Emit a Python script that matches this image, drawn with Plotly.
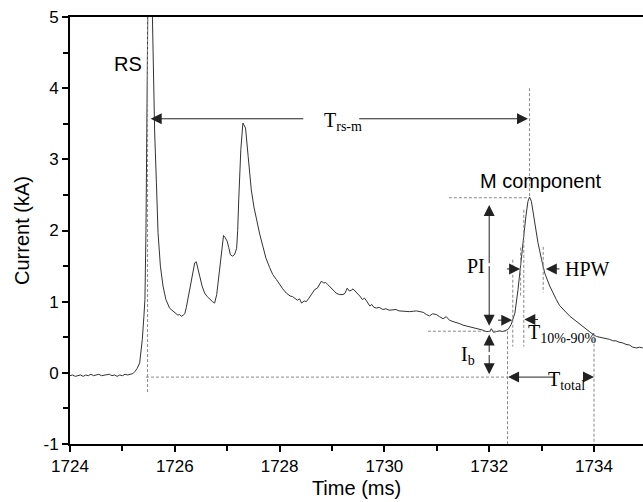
import plotly.graph_objects as go

# ---- data ----
time_ms = [
    1724.00, 1724.05, 1724.10, 1724.15, 1724.20, 1724.25, 1724.30, 1724.35, 1724.40, 1724.45,
    1724.50, 1724.55, 1724.60, 1724.65, 1724.70, 1724.75, 1724.80, 1724.85, 1724.90, 1724.95,
    1725.00, 1725.05, 1725.10, 1725.15, 1725.20, 1725.24, 1725.28, 1725.33, 1725.36, 1725.38,
    1725.41, 1725.43, 1725.45, 1725.47, 1725.49, 1725.52, 1725.55, 1725.572, 1725.603, 1725.616,
    1725.649, 1725.68, 1725.725, 1725.775, 1725.83, 1725.90, 1725.93, 1725.966, 1726.00, 1726.03,
    1726.06, 1726.09, 1726.126, 1726.16, 1726.19, 1726.22, 1726.25, 1726.317, 1726.38, 1726.41,
    1726.44, 1726.475, 1726.52, 1726.57, 1726.62, 1726.67, 1726.72, 1726.76, 1726.80, 1726.825,
    1726.86, 1726.89, 1726.93, 1726.96, 1727.00, 1727.03, 1727.06, 1727.10, 1727.14, 1727.18,
    1727.20, 1727.22, 1727.26, 1727.30, 1727.35, 1727.40, 1727.46, 1727.51, 1727.56, 1727.62,
    1727.68, 1727.74, 1727.81, 1727.87, 1727.94, 1728.00, 1728.06, 1728.13, 1728.20, 1728.25,
    1728.29, 1728.34, 1728.38, 1728.42, 1728.47, 1728.51, 1728.56, 1728.61, 1728.67, 1728.72,
    1728.76, 1728.80, 1728.84, 1728.88, 1728.92, 1728.97, 1729.02, 1729.08, 1729.14, 1729.21,
    1729.25, 1729.29, 1729.33, 1729.37, 1729.40, 1729.43, 1729.48, 1729.53, 1729.58, 1729.62,
    1729.66, 1729.72, 1729.76, 1729.80, 1729.85, 1729.90, 1729.97, 1730.03, 1730.09, 1730.16,
    1730.22, 1730.28, 1730.35, 1730.42, 1730.48, 1730.55, 1730.61, 1730.68, 1730.74, 1730.80,
    1730.86, 1730.92, 1730.99, 1731.05, 1731.12, 1731.18, 1731.24, 1731.31, 1731.37, 1731.44,
    1731.50, 1731.56, 1731.63, 1731.70, 1731.76, 1731.82, 1731.88, 1731.94, 1732.01, 1732.04,
    1732.08, 1732.14, 1732.20, 1732.26, 1732.31, 1732.36, 1732.42, 1732.49, 1732.55, 1732.60,
    1732.645, 1732.70, 1732.74, 1732.77, 1732.805, 1732.87, 1732.93, 1733.00, 1733.06, 1733.155,
    1733.22, 1733.28, 1733.34, 1733.41, 1733.48, 1733.54, 1733.60, 1733.66, 1733.73, 1733.80,
    1733.86, 1733.92, 1733.98, 1734.05, 1734.12, 1734.18, 1734.24, 1734.30, 1734.36, 1734.42,
    1734.48, 1734.55, 1734.61, 1734.68, 1734.74, 1734.81, 1734.87, 1734.93,
]
current_ka = [
    -0.04, -0.03, -0.05, -0.04, -0.03, -0.05, -0.03, -0.04, -0.02, -0.04,
    -0.03, -0.02, -0.04, -0.03, -0.03, -0.02, -0.04, -0.03, -0.05, -0.03,
    -0.04, -0.02, -0.03, -0.02, -0.01, 0.02, 0.06, 0.14, 0.30, 0.47,
    0.79, 1.03, 2.00, 3.80, 5.60, 7.00, 5.80, 5.00, 3.83, 3.37,
    2.67, 1.97, 1.50, 1.22, 1.03, 0.91, 0.89, 0.865, 0.84, 0.83,
    0.81, 0.82, 0.795, 0.81, 0.83, 0.92, 1.03, 1.31, 1.545, 1.56,
    1.48, 1.36, 1.22, 1.12, 1.07, 1.03, 1.00, 0.98, 1.10, 1.26,
    1.50, 1.73, 1.93, 1.90, 1.85, 1.76, 1.66, 1.64, 1.66, 1.75,
    2.00, 2.43, 3.14, 3.51, 3.44, 3.04, 2.57, 2.33, 2.15, 1.95,
    1.78, 1.61, 1.48, 1.38, 1.31, 1.24, 1.18, 1.12, 1.08, 1.07,
    1.05, 1.02, 1.04, 0.98, 1.01, 1.00, 1.05, 1.10, 1.17, 1.19,
    1.25, 1.29, 1.26, 1.27, 1.24, 1.20, 1.16, 1.12, 1.10, 1.10,
    1.12, 1.19, 1.15, 1.16, 1.18, 1.16, 1.12, 1.08, 1.03, 1.05,
    1.01, 0.94, 0.96, 0.92, 0.91, 0.92, 0.89, 0.90, 0.88, 0.88,
    0.89, 0.87, 0.865, 0.87, 0.86, 0.865, 0.87, 0.86, 0.85, 0.82,
    0.80, 0.83, 0.82, 0.79, 0.76, 0.79, 0.74, 0.72, 0.71, 0.69,
    0.67, 0.66, 0.64, 0.63, 0.62, 0.61, 0.60, 0.58, 0.58, 0.62,
    0.57, 0.58, 0.59, 0.58, 0.60, 0.61, 0.68, 0.84, 1.17, 1.545,
    1.87, 2.20, 2.41, 2.47, 2.41, 2.11, 1.83, 1.59, 1.40, 1.22,
    1.11, 1.03, 0.95, 0.89, 0.84, 0.795, 0.76, 0.72, 0.68, 0.64,
    0.61, 0.58, 0.54, 0.51, 0.50, 0.49, 0.48, 0.47, 0.45, 0.45,
    0.43, 0.42, 0.40, 0.39, 0.36, 0.35, 0.36, 0.35,
]

x_ticks = [1724, 1726, 1728, 1730, 1732, 1734]
y_ticks = [-1, 0, 1, 2, 3, 4, 5]
y_tick_text = ["-1", "0", "1", "2", "3", "4", "5"]

# dashed guide lines: (x0, y0, x1, y1)
guide_lines = [
    (1725.48, -0.27, 1725.48, 5.0),
    (1725.45, -0.06, 1732.35, -0.06),
    (1732.35, 0.585, 1732.35, -1.0),
    (1734.00, 0.55, 1734.00, -1.0),
    (1731.23, 2.46, 1732.74, 2.46),
    (1730.83, 0.585, 1732.35, 0.585),
    (1732.77, 4.00, 1732.77, 2.47),
    (1732.66, 2.29, 1732.66, 0.37),
    (1732.45, 1.59, 1732.45, 0.37),
    (1732.60, 1.76, 1732.60, 1.07),
    (1733.03, 1.77, 1733.03, 1.13),
]

# arrows: (tail_x, tail_y, tip_x, tip_y)
arrows = [
    (1728.48, 3.57, 1725.54, 3.57),
    (1729.49, 3.57, 1732.74, 3.57),
    (1733.28, -0.06, 1732.36, -0.06),
    (1733.90, -0.06, 1734.00, -0.06),
    (1732.00, 1.52, 1732.00, 2.36),
    (1732.00, 1.52, 1732.00, 0.66),
    (1732.00, 0.27, 1732.00, 0.54),
    (1732.00, 0.27, 1732.00, -0.02),
    (1732.31, 1.46, 1732.59, 1.46),
    (1733.37, 1.46, 1733.08, 1.46),
    (1732.14, 0.74, 1732.44, 0.74),
    (1732.96, 0.75, 1732.67, 0.75),
]

fig = go.Figure()
fig.add_trace(go.Scatter(x=time_ms, y=current_ka, mode="lines",
                         line=dict(color="#333333", width=1), showlegend=False,
                         hoverinfo="skip"))

for x0, y0, x1, y1 in guide_lines:
    fig.add_shape(type="line", x0=x0, y0=y0, x1=x1, y1=y1, xref="x", yref="y",
                  line=dict(color="#888888", width=1, dash="3px,2px"))

for tx, ty, hx, hy in arrows:
    fig.add_annotation(x=hx, y=hy, ax=tx, ay=ty, xref="x", yref="y", axref="x", ayref="y",
                       text="", showarrow=True, arrowhead=2, arrowsize=2.2, arrowwidth=1,
                       arrowcolor="#222222", standoff=0, startstandoff=0)

serif = "Liberation Serif"
sans = "Liberation Sans"
labels = [
    (1725.10, 4.34, "RS", sans, 20, "center"),
    (1732.98, 2.69, "M component", sans, 20, "center"),
    (1728.81, 3.53, "T<sub>rs-m</sub>", serif, 20, "left"),
    (1731.74, 1.50, "PI", serif, 20, "center"),
    (1733.41, 1.46, "HPW", serif, 20, "left"),
    (1732.70, 0.55, "T<sub>10%-90%</sub>", serif, 20, "left"),
    (1731.60, 0.25, "I<sub>b</sub>", serif, 20, "center"),
    (1733.08, -0.11, "T<sub>total</sub>", serif, 20, "left"),
]
for x, y, t, f, s, xa in labels:
    fig.add_annotation(x=x, y=y, xref="x", yref="y", text=t, showarrow=False,
                       font=dict(family=f, size=s, color="black"), xanchor=xa, yanchor="middle")

fig.update_layout(
    width=643, height=502,
    margin=dict(l=70, r=0, t=17, b=58),
    paper_bgcolor="white", plot_bgcolor="white",
    font=dict(family=sans, color="black", size=17),
)
fig.update_xaxes(
    range=[1724, 1734.935], tickvals=x_ticks, ticks="outside", ticklen=6, tickwidth=1.5,
    tickcolor="black", showline=True, linecolor="black", linewidth=2, mirror=True,
    showgrid=False, zeroline=False, tickfont=dict(size=17),
    minor=dict(dtick=1, ticks="outside", ticklen=5, tickwidth=1.5, tickcolor="black"),
    title=dict(text="Time (ms)", font=dict(size=20), standoff=6),
)
fig.update_yaxes(
    range=[-1, 5], tickvals=y_ticks, ticktext=y_tick_text, ticks="outside", ticklen=6,
    tickwidth=1.5, tickcolor="black", showline=True, linecolor="black", linewidth=2,
    showgrid=False, zeroline=False, tickfont=dict(size=17),
    minor=dict(dtick=0.5, ticks="outside", ticklen=5, tickwidth=1.5, tickcolor="black"),
    title=dict(text="Current (kA)", font=dict(size=20), standoff=8),
)

fig.write_html(
    "out.html",
    config={"displayModeBar": False},
    post_script="document.body.style.margin='0';document.body.style.padding='0';",
)
